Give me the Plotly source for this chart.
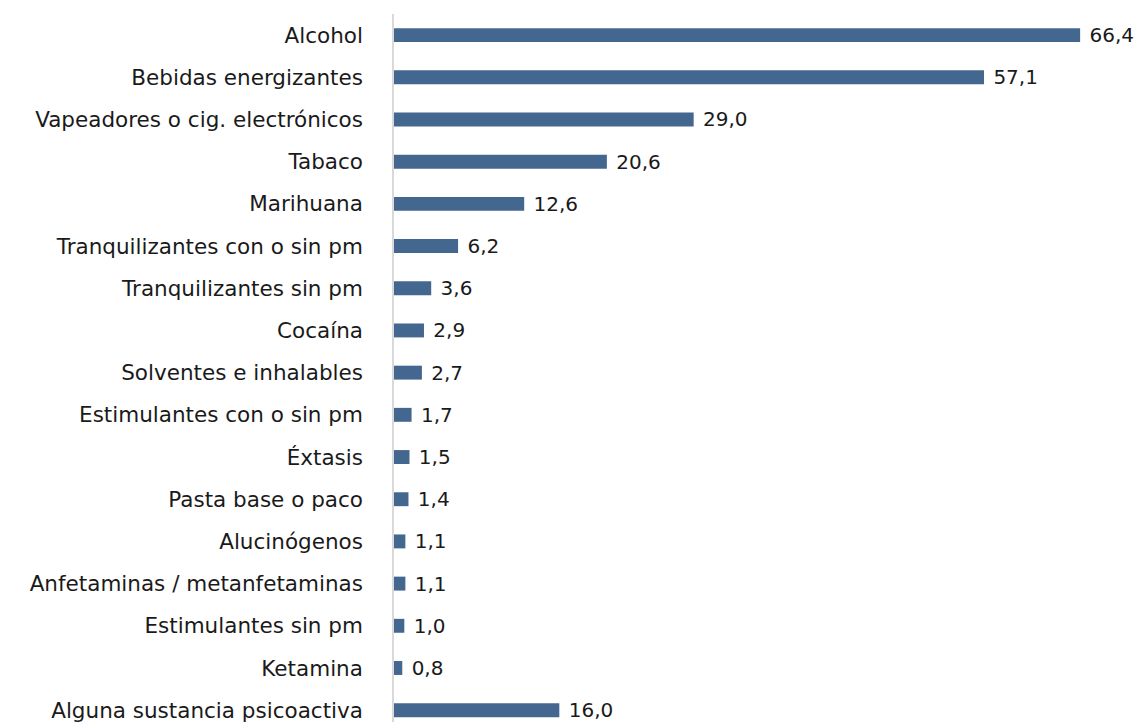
import plotly.graph_objects as go

categories = [
    "Alcohol", "Bebidas energizantes", "Vapeadores o cig. electrónicos", "Tabaco",
    "Marihuana", "Tranquilizantes con o sin pm", "Tranquilizantes sin pm", "Cocaína",
    "Solventes e inhalables", "Estimulantes con o sin pm", "Éxtasis", "Pasta base o paco",
    "Alucinógenos", "Anfetaminas / metanfetaminas", "Estimulantes sin pm", "Ketamina",
    "Alguna sustancia psicoactiva",
]
values = [66.4, 57.1, 29.0, 20.6, 12.6, 6.2, 3.6, 2.9, 2.7, 1.7, 1.5, 1.4, 1.1, 1.1, 1.0, 0.8, 16.0]
labels = [f"{v:.1f}".replace(".", ",") for v in values]

FONT = "DejaVu Sans"

fig = go.Figure(go.Bar(
    x=values, y=categories, orientation="h",
    marker=dict(color="#44678f", line=dict(width=0)),
    width=0.33,
    text=[" " + t for t in labels], textposition="outside",
    constraintext="none",
    textfont=dict(family=FONT, size=20, color="#1a1a1a"),
    cliponaxis=False,
))

fig.update_layout(
    width=1142, height=722,
    margin=dict(l=386, r=12, t=6, b=8, autoexpand=False),
    plot_bgcolor="white", paper_bgcolor="white",
    showlegend=False,
    font=dict(family=FONT, size=20, color="#1a1a1a"),
    xaxis=dict(range=[0, 72], showgrid=False, zeroline=False, showticklabels=False,
               showline=False, automargin=False),
    yaxis=dict(range=[16.28, -0.5], showgrid=False, zeroline=False, automargin=False,
               showline=True, linecolor="#d9d9d9", linewidth=1.5,
               ticks="", ticklabelstandoff=25,
               tickfont=dict(family=FONT, size=21.5, color="#1a1a1a")),
)

fig.write_html("out.html")
